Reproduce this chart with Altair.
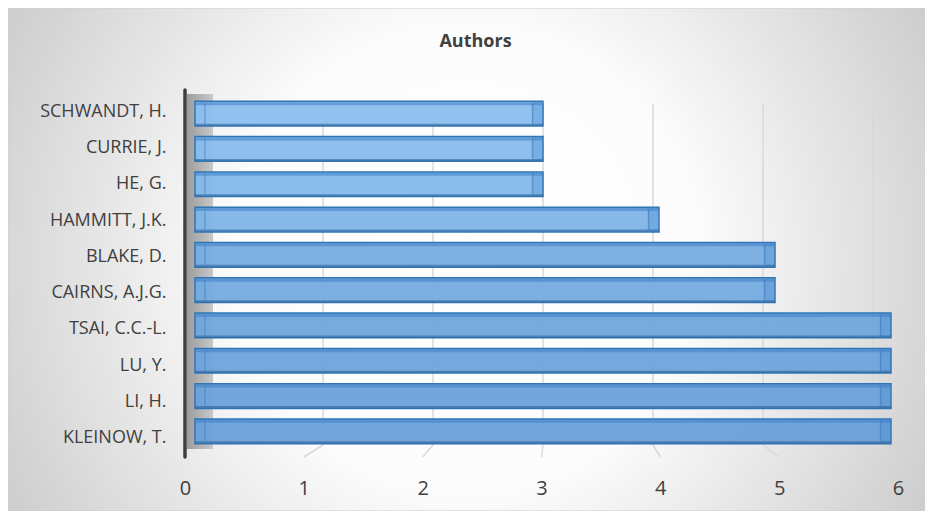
import altair as alt
import pandas as pd

# ---- data (top to bottom as shown) ----
authors = ["SCHWANDT, H.", "CURRIE, J.", "HE, G.", "HAMMITT, J.K.", "BLAKE, D.",
           "CAIRNS, A.J.G.", "TSAI, C.C.-L.", "LU, Y.", "LI, H.", "KLEINOW, T."]
counts = [3, 3, 3, 4, 5, 5, 6, 6, 6, 6]
tick_values = [0, 1, 2, 3, 4, 5, 6]
grid_values = [1, 2, 3, 4, 5, 6]

# ---- layout / style ----
W, H = 917, 503
X_MAX = 6
FRONT = [177, 890]   # front edge of the 3D floor (axis labels)
MID = [187, 883]     # bar depth
BACK = [205, 865]    # back wall (gridlines)
shades = ["#8cbfee", "#89bcec", "#85b9ea", "#80b5e7", "#78aee2",
          "#74aadf", "#70a6dc", "#6ea4db", "#6ca2d9", "#6aa0d8"]
FONT = "Open Sans"
TXT = "#404040"

bars_df = pd.DataFrame({"author": authors, "count": counts})
ticks_df = pd.DataFrame({"tick": tick_values})
grid_df = pd.DataFrame({"tick": grid_values})
one_row = pd.DataFrame({"k": [0]})

front_x = alt.Scale(domain=[0, X_MAX], range=FRONT, nice=False, zero=False)
mid_x = alt.Scale(domain=[0, X_MAX], range=MID, nice=False, zero=False)
back_x = alt.Scale(domain=[0, X_MAX], range=BACK, nice=False, zero=False)
bar_y = alt.Scale(domain=authors, range=[88, 441], paddingInner=0.3, paddingOuter=0.15)
label_y = alt.Scale(domain=authors, range=[85, 448], paddingInner=0, paddingOuter=0)
shade_scale = alt.Scale(domain=authors, range=shades)

BG = {"gradient": "radial", "x1": 0.5, "y1": 0.5, "r1": 0, "x2": 0.5, "y2": 0.5, "r2": 0.63,
      "stops": [{"offset": 0, "color": "#ffffff"}, {"offset": 0.4, "color": "#fcfcfc"},
                {"offset": 1, "color": "#c4c4c4"}]}
WALL = {"gradient": "linear", "x1": 0, "y1": 0, "x2": 1, "y2": 0,
        "stops": [{"offset": 0, "color": "#9c9c9c"}, {"offset": 1, "color": "#c9c9c9"}]}

bg = alt.Chart(one_row).mark_rect(fill=BG, stroke="#d0d0d0", strokeWidth=1).encode(
    x=alt.value(0), x2=alt.value("width"), y=alt.value(0), y2=alt.value("height"))

wall = alt.Chart(one_row).mark_rect(fill=WALL).encode(
    x=alt.value(179), x2=alt.value(205), y=alt.value(86), y2=alt.value(441))

grid = alt.Chart(grid_df).mark_rule(color="#d9d9d9", strokeWidth=1.5).encode(
    x=alt.X("tick:Q", scale=back_x, axis=None), y=alt.value(96), y2=alt.value(437))

front_expr = "({f0} + datum.tick * ({f1} - {f0}) / {m} - {b0}) * {m} / ({b1} - {b0})".format(
    f0=FRONT[0], f1=FRONT[1], b0=BACK[0], b1=BACK[1], m=X_MAX)
floor = alt.Chart(grid_df).transform_calculate(front=front_expr).mark_rule(
    color="#d9d9d9", strokeWidth=1.5).encode(
    x=alt.X("tick:Q", scale=back_x, axis=None), x2="front:Q",
    y=alt.value(437), y2=alt.value(449))

axis_line = alt.Chart(one_row).mark_rule(color="#3f3f3f", strokeWidth=3.5, strokeCap="round").encode(
    x=alt.X(datum=0, scale=front_x, axis=None), y=alt.value(82), y2=alt.value(449))

ybar = alt.Y("author:N", scale=bar_y, sort=authors, axis=None)

bars = alt.Chart(bars_df).mark_bar(stroke="#2e75b6", strokeWidth=1.5, fillOpacity=0.95).encode(
    x=alt.X("count:Q", scale=mid_x, axis=None), y=ybar,
    color=alt.Color("author:N", scale=shade_scale, legend=None))

cap = alt.Chart(bars_df).transform_calculate(cap_start="datum.count - 0.09").mark_bar(
    fill="#4a88ca", opacity=0.3).encode(
    x=alt.X("cap_start:Q", scale=mid_x, axis=None), x2="count:Q", y=ybar)

top_strip = alt.Chart(bars_df).mark_bar(height=3, yOffset=-10, fill="#3f7fc6", opacity=0.55).encode(
    x=alt.X("count:Q", scale=mid_x, axis=None), y=ybar)

bottom_strip = alt.Chart(bars_df).mark_bar(height=2, yOffset=11, fill="#2a5d94", opacity=0.55).encode(
    x=alt.X("count:Q", scale=mid_x, axis=None), y=ybar)

end_line = alt.Chart(bars_df).transform_calculate(pos="datum.count - 0.09").mark_tick(
    thickness=1.5, size=21, color="#3a78bf", opacity=0.6).encode(
    x=alt.X("pos:Q", scale=mid_x, axis=None), y=ybar)

start_line = alt.Chart(bars_df).transform_calculate(pos="0.085").mark_tick(
    thickness=1.5, size=21, color="#3a78bf", opacity=0.45).encode(
    x=alt.X("pos:Q", scale=mid_x, axis=None), y=ybar)

ylab = alt.Chart(bars_df).mark_point(opacity=0).encode(
    x=alt.value(0),
    y=alt.Y("author:N", scale=label_y, sort=authors, title=None,
            axis=alt.Axis(orient="left", offset=-162, domain=False, ticks=False, grid=False,
                          labelPadding=4, labelFontSize=18, labelFont=FONT, labelColor=TXT,
                          zindex=2)))

xlab = alt.Chart(ticks_df).mark_point(opacity=0).encode(
    x=alt.X("tick:Q", scale=front_x, title=None,
            axis=alt.Axis(orient="bottom", offset=468 - H, values=tick_values, format="d",
                          domain=False, ticks=False, grid=False, labelPadding=2,
                          labelFlush=False, labelOverlap=False,
                          labelFontSize=20, labelFont=FONT, labelColor=TXT, zindex=2)),
    y=alt.value(0))

chart = alt.layer(
    bg, wall, grid, floor, axis_line, bars, cap, top_strip, bottom_strip, end_line, start_line,
    ylab, xlab
).resolve_scale(
    x="independent", y="independent", color="independent"
).properties(
    width=W, height=H,
    title=alt.TitleParams("Authors", fontSize=18, fontWeight="bold", font=FONT, color=TXT,
                          anchor="middle", offset=-60, dx=9, baseline="alphabetic", zindex=2),
    autosize=alt.AutoSizeParams(type="none"),
    padding=0,
).configure_view(stroke=None)

chart.save("out.html", embed_options={"renderer": "svg", "actions": False})
